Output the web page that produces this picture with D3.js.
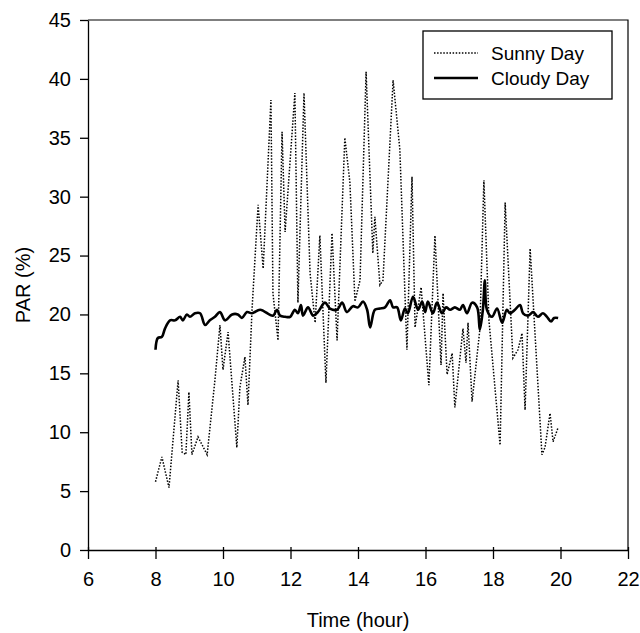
<!DOCTYPE html>
<html><head><meta charset="utf-8">
<script src="https://cdn.jsdelivr.net/npm/d3@7"></script>
<style>body{margin:0;background:#fff}svg{display:block;font-family:"Liberation Sans",Arial,sans-serif}</style>
</head><body><svg id="c" width="640" height="633"></svg>
<script>
const sunnyHours = [8.0,8.19,8.40,8.67,8.79,8.90,8.99,9.08,9.26,9.53,9.76,9.91,10.0,10.15,10.41,10.50,10.65,10.74,10.86,11.04,11.19,11.42,11.48,11.63,11.75,11.84,12.13,12.22,12.40,12.58,12.73,12.87,13.05,13.23,13.38,13.61,13.76,13.91,14.06,14.24,14.44,14.50,14.65,14.74,15.04,15.24,15.45,15.60,15.69,15.87,16.10,16.28,16.46,16.52,16.64,16.79,16.87,17.11,17.20,17.26,17.38,17.61,17.73,17.88,18.21,18.36,18.59,18.74,18.86,18.95,19.10,19.45,19.54,19.69,19.78,19.93];
const sunnyPAR = [5.8,7.9,5.3,14.4,8.3,8.1,13.4,8.1,9.6,8.1,14.4,19.1,15.3,18.5,8.7,13.8,16.4,12.3,20.4,29.3,23.9,38.2,21.8,17.8,35.5,27.0,38.8,21.0,38.8,23.5,19.3,26.7,14.2,26.9,17.8,35.0,31.2,21.1,22.9,40.6,25.2,28.3,22.5,22.9,39.9,34.0,17.0,31.7,18.9,22.3,14.0,26.7,15.7,21.8,14.9,16.7,12.1,18.8,15.9,19.3,12.6,18.7,31.4,19.5,8.9,29.5,16.3,17.0,18.4,11.9,25.6,8.1,8.7,11.6,9.2,10.4];
const cloudyHours = [8.0,8.07,8.19,8.28,8.43,8.58,8.73,8.81,8.93,9.02,9.17,9.32,9.47,9.61,9.76,9.91,10.06,10.27,10.44,10.56,10.71,10.86,11.10,11.48,11.60,11.69,11.84,11.99,12.13,12.22,12.31,12.37,12.52,12.67,12.81,13.02,13.17,13.38,13.53,13.67,13.85,14.00,14.15,14.27,14.36,14.50,14.65,14.80,14.95,15.04,15.16,15.27,15.39,15.48,15.63,15.78,15.90,15.99,16.07,16.22,16.34,16.49,16.61,16.73,16.87,17.02,17.11,17.23,17.38,17.53,17.61,17.70,17.76,17.82,17.97,18.12,18.27,18.41,18.50,18.65,18.80,18.89,19.04,19.19,19.33,19.48,19.60,19.72,19.81,19.93];
const cloudyPAR = [17.0,18.0,18.1,18.8,19.5,19.5,19.8,19.5,20.0,19.8,20.1,20.1,19.1,19.5,19.8,20.2,19.5,20.0,20.0,19.7,20.2,20.1,20.4,19.9,20.4,19.9,19.8,19.8,20.4,20.1,20.8,19.9,20.6,19.9,20.2,21.0,20.5,20.4,21.0,20.2,20.7,20.6,21.1,20.4,18.9,20.4,20.5,20.6,21.2,20.6,20.6,19.5,20.5,20.1,21.5,20.4,21.1,20.2,21.1,20.1,21.0,20.1,20.6,20.4,20.6,20.4,20.8,20.1,21.0,20.6,18.7,20.4,22.9,20.4,19.8,20.5,19.3,20.4,20.1,20.4,20.8,20.1,19.9,20.2,19.8,20.1,19.8,19.4,19.7,19.7];
const xTicks = [6,8,10,12,14,16,18,20,22];
const yTicks = [0,5,10,15,20,25,30,35,40,45];
const legendLabels = ["Sunny Day","Cloudy Day"];

const svg = d3.select("#c");
const L=88,R=628,T=20,B=550;
const x = d3.scaleLinear().domain([6,22]).range([L,R]);
const y = d3.scaleLinear().domain([0,45]).range([B,T]);
const FS = 20;

svg.append("path").attr("d",`M${L},${T}H${R}V${B}`).attr("fill","none").attr("stroke","#000").attr("stroke-width",1.2);

const xa = svg.append("g").attr("transform",`translate(0,${B})`)
  .call(d3.axisBottom(x).tickValues(xTicks).tickFormat(d3.format("d")).tickSizeOuter(0).tickSizeInner(9).tickPadding(13));
xa.selectAll(".tick line").attr("y1",-3).attr("stroke-width",1.3);
xa.select(".domain").attr("stroke-width",1.3);
xa.selectAll("text").attr("font-size",FS).attr("fill","#000");

const ya = svg.append("g").attr("transform",`translate(${L},0)`)
  .call(d3.axisLeft(y).tickValues(yTicks).tickFormat(d3.format("d")).tickSizeOuter(0).tickSizeInner(8).tickPadding(9));
ya.selectAll(".tick line").attr("stroke-width",1.3);
ya.select(".domain").attr("stroke-width",1.3);
ya.selectAll("text").attr("font-size",FS).attr("fill","#000");

svg.append("text").attr("x",(L+R)/2).attr("y",627).attr("text-anchor","middle").attr("font-size",FS).text("Time (hour)");
svg.append("text").attr("transform",`translate(30,${(T+B)/2}) rotate(-90)`).attr("text-anchor","middle").attr("font-size",FS).text("PAR (%)");

const line = d3.line().x(d=>x(d[0])).y(d=>y(d[1]));
const sunny = sunnyHours.map((h,i)=>[h,sunnyPAR[i]]);
const cloudy = cloudyHours.map((h,i)=>[h,cloudyPAR[i]]);
svg.append("path").datum(sunny).attr("d",line).attr("fill","none").attr("stroke","#000").attr("stroke-width",1.5).attr("stroke-dasharray","1.5,1.6");
svg.append("path").datum(cloudy).attr("d",line.curve(d3.curveCatmullRom.alpha(0.5))).attr("fill","none").attr("stroke","#000").attr("stroke-width",2.6).attr("stroke-linejoin","round");

const lg = svg.append("g");
lg.append("rect").attr("x",423).attr("y",31).attr("width",189).attr("height",68).attr("fill","#fff").attr("stroke","#000").attr("stroke-width",1.3);
lg.append("line").attr("x1",434).attr("x2",478).attr("y1",53).attr("y2",53).attr("stroke","#000").attr("stroke-width",1.3).attr("stroke-dasharray","1.5,1.6");
lg.append("line").attr("x1",434).attr("x2",478).attr("y1",78).attr("y2",78).attr("stroke","#000").attr("stroke-width",2.6);
lg.append("text").attr("x",491).attr("y",60).attr("font-size",19).text(legendLabels[0]);
lg.append("text").attr("x",491).attr("y",85).attr("font-size",19).text(legendLabels[1]);
</script></body></html>
